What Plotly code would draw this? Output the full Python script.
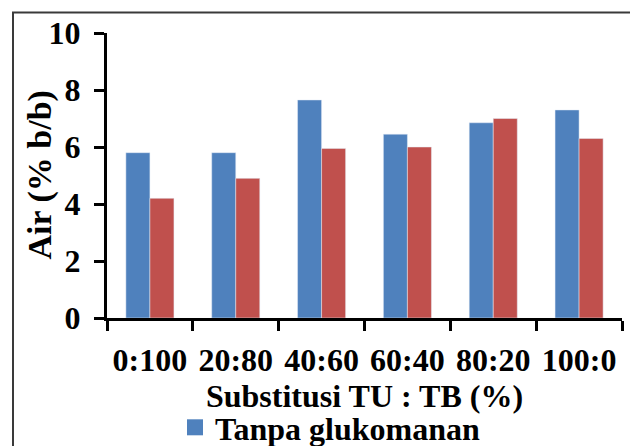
import plotly.graph_objects as go

categories = ["0:100", "20:80", "40:60", "60:40", "80:20", "100:0"]
tanpa = [5.8, 5.8, 7.65, 6.45, 6.85, 7.3]
dengan = [4.2, 4.9, 5.95, 6.0, 7.0, 6.3]
series_names = ["Tanpa glukomanan", "Dengan glukomanan"]
colors = ["#4F81BD", "#C0504D"]
y_title = "Air (% b/b)"
x_title = "Substitusi TU : TB (%)"

W, H = 638, 446
OFF = 8  # page offset of the figure inside the browser window
# desired plot area in window pixels
PL, PR, PT, PB = 107, 622, 33, 318
L = PL - OFF
T = PT - OFF
R = W - (PR - OFF)
B = H - (PB - OFF)
FONT = "Liberation Serif"
FS = 32

pw = W - L - R
ph = H - T - B

def px_x(p):
    return (p - OFF - L) / pw

def px_y(p):
    return (H - B - (p - OFF)) / ph

fig = go.Figure()
fig.add_trace(go.Bar(x=categories, y=tanpa, name=series_names[0],
                     marker_color=colors[0], showlegend=False))
fig.add_trace(go.Bar(x=categories, y=dengan, name=series_names[1],
                     marker_color=colors[1], showlegend=False))
for name, c in zip(series_names, colors):
    fig.add_trace(go.Scatter(x=[None], y=[None], mode="markers", name=name,
                             marker=dict(symbol="square", size=16, color=c),
                             hoverinfo="skip"))

fnt = dict(family=FONT, size=FS, color="black", weight="bold")

fig.update_layout(
    width=W, height=H,
    margin=dict(l=L, r=R, t=T, b=B, autoexpand=False),
    paper_bgcolor="white", plot_bgcolor="white",
    barmode="group", bargap=0.44, bargroupgap=0,
    font=fnt,
    showlegend=True,
    legend=dict(
        orientation="v", x=px_x(175), xanchor="left",
        y=px_y(400), yanchor="top",
        font=fnt, bgcolor="rgba(0,0,0,0)", itemsizing="trace",
        traceorder="normal",
    ),
    xaxis=dict(
        showline=True, linecolor="black", linewidth=3,
        ticks="outside", ticklen=10, tickwidth=3, tickcolor="black",
        tickson="boundaries", ticklabelstandoff=12,
        tickfont=fnt,
        title=dict(text=x_title, standoff=1, font=fnt),
        showgrid=False, zeroline=False,
    ),
    yaxis=dict(
        range=[0, 10], tickvals=[0, 2, 4, 6, 8, 10],
        showline=True, linecolor="black", linewidth=3,
        ticks="outside", ticklen=10, tickwidth=3, tickcolor="black",
        ticklabelstandoff=7,
        tickfont=fnt,
        showgrid=False, zeroline=False,
    ),
    annotations=[
        dict(text=y_title, textangle=-90, xref="paper", yref="paper",
             x=px_x(39), y=0.5, xanchor="center", yanchor="middle",
             showarrow=False,
             font=dict(family=FONT, size=34, color="black", weight="bold")),
    ],
    shapes=[
        dict(type="rect", xref="paper", yref="paper",
             x0=px_x(13), x1=px_x(680), y0=px_y(480), y1=px_y(12.5),
             line=dict(color="#3a3a3a", width=2), fillcolor="rgba(0,0,0,0)",
             layer="below"),
    ],
)

fig.write_html("out.html")
